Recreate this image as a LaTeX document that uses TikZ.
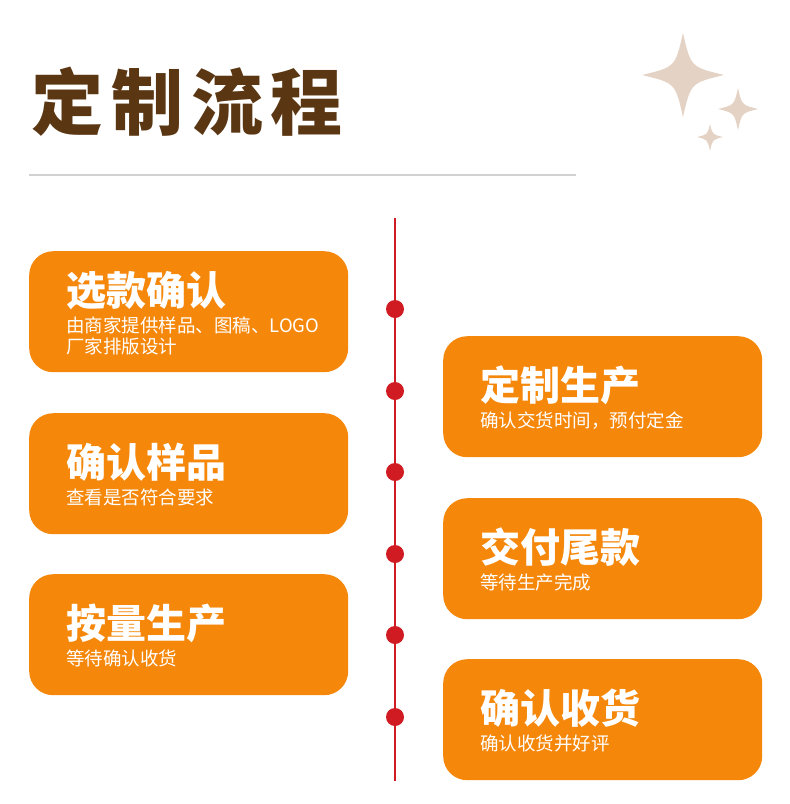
\documentclass[tikz,border=0pt]{standalone}
\usepackage{fontspec}
\newfontfamily\cjk{Noto Sans CJK SC}
\definecolor{boxorange}{HTML}{F5870A}
\definecolor{titlebrown}{HTML}{5A3612}
\definecolor{rulegrey}{HTML}{D2D2D2}
\definecolor{starbeige}{HTML}{E4D3C5}
\definecolor{dotred}{HTML}{D01B22}
\newcommand{\sparkle}[5]{% #1 cx, #2 cy, #3 rx, #4 ry-top, #5 ry-bottom
  \fill[starbeige] (#1,#2-#4) .. controls (#1+0.19*#3,#2-0.19*#4) .. (#1+#3,#2)
    .. controls (#1+0.19*#3,#2+0.19*#5) .. (#1,#2+#5)
    .. controls (#1-0.19*#3,#2+0.19*#5) .. (#1-#3,#2)
    .. controls (#1-0.19*#3,#2-0.19*#4) .. cycle;}
\begin{document}
\begin{tikzpicture}[x=1pt,y=-1pt,
  stepbox/.style={fill=boxorange, rounded corners=24pt, minimum width=319pt, minimum height=121pt, inner sep=0pt, anchor=north west},
  steptitle/.style={anchor=base west, inner sep=0pt, text=white, font=\cjk\bfseries\fontsize{40}{48}\selectfont},
  stepsub/.style={anchor=base west, inner sep=0pt, text=white, font=\cjk\fontsize{18.5}{21.5}\selectfont, align=left},
  tldot/.style={circle, fill=dotred, minimum size=18pt, inner sep=0pt}]
\useasboundingbox (0,0) rectangle (790,804);
% title
\node[anchor=base west, inner sep=0pt, text=titlebrown, font=\cjk\bfseries\fontsize{72}{80}\selectfont\addfontfeature{LetterSpace=11}] (title) at (31,129) {定制流程};
\coordinate (ruleA) at (29,175);
\coordinate (ruleB) at (576,175);
\draw[rulegrey, line width=2pt] (ruleA) -- (ruleB);
% sparkles
\sparkle{683}{75}{41}{42}{42}
\sparkle{738}{109}{20}{21}{21}
\sparkle{710}{137}{13}{13}{14}
% timeline
\coordinate (ltop) at (395,218);
\coordinate (lbot) at (395,781);
\draw[dotred, line width=1.3pt] (ltop) -- (lbot);
\foreach \yy [count=\i] in {309,391,472,554,635,717}
  \node[tldot] (d\i) at (395,\yy) {};
% left boxes
\node[stepbox] (b1) at (29,251) {};
\node[steptitle] (b1t) at (66,305) {选款确认};
\node[stepsub] (b1s) at (66,353.5) {由商家提供样品、图稿、LOGO\\厂家排版设计};
\node[stepbox] (b2) at (29,413) {};
\node[steptitle] (b2t) at (66,477) {确认样品};
\node[stepsub] (b2s) at (66,504.5) {查看是否符合要求};
\node[stepbox] (b3) at (29,574) {};
\node[steptitle] (b3t) at (66,638) {按量生产};
\node[stepsub] (b3s) at (66,665.5) {等待确认收货};
% right boxes
\node[stepbox] (r1) at (443,336) {};
\node[steptitle] (r1t) at (480,400) {定制生产};
\node[stepsub] (r1s) at (480,427.5) {确认交货时间，预付定金};
\node[stepbox] (r2) at (443,498) {};
\node[steptitle] (r2t) at (480,562) {交付尾款};
\node[stepsub] (r2s) at (480,589.5) {等待生产完成};
\node[stepbox] (r3) at (443,659) {};
\node[steptitle] (r3t) at (480,723) {确认收货};
\node[stepsub] (r3s) at (480,750.5) {确认收货并好评};
\end{tikzpicture}
\end{document}
